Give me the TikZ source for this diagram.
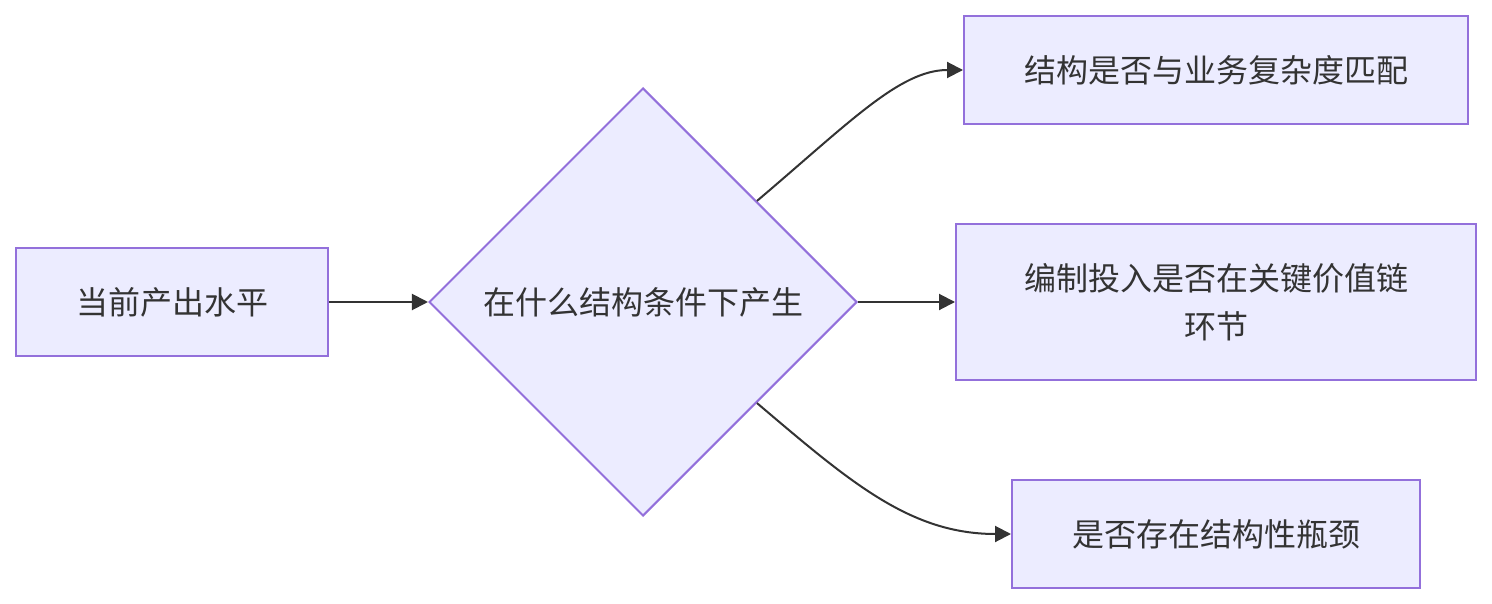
\documentclass[tikz,border=0pt]{standalone}
\usepackage{fontspec}
\setmainfont{Noto Sans CJK SC}
\usetikzlibrary{arrows.meta,positioning,shapes.geometric,calc}
\definecolor{boxfill}{HTML}{ECECFF}
\definecolor{boxline}{HTML}{9370DB}
\definecolor{ink}{HTML}{333333}

\begin{document}
\begin{tikzpicture}[x=0.5pt, y=-0.5pt, every node/.style={font=\fontsize{16pt}{24pt}\selectfont, text=ink}, box/.style={draw=boxline, fill=boxfill, line width=1pt, align=center, inner sep=0pt}, decision/.style={diamond, aspect=1, draw=boxline, fill=boxfill, line width=1pt, inner sep=0pt, minimum width=214pt, minimum height=214pt}, arrow/.style={draw=ink, line width=1pt, -{Triangle[length=8pt, width=8pt]}}]
\useasboundingbox (0,0) rectangle (1492,604);
\node[box, minimum width=156pt, minimum height=54pt] (level) at (172,302) {当前产出水平};
\node[decision] (cond) at (643,302) {在什么结构条件下产生};
\node[box, minimum width=252pt, minimum height=54pt] (match) at (1216,70) {结构是否与业务复杂度匹配};
\node[box, minimum width=260pt, minimum height=78pt] (chain) at (1216,302) {编制投入是否在关键价值链\\环节};
\node[box, minimum width=204pt, minimum height=54pt] (neck) at (1216,534) {是否存在结构性瓶颈};
\coordinate (upout) at ($(cond.north)!0.53!(cond.east)$);
\coordinate (downout) at ($(cond.south)!0.53!(cond.east)$);
\draw[arrow] (level) -- (cond);
\draw[arrow] (upout) .. controls (850,122) and (900,70) .. (match.west);
\draw[arrow] (cond) -- (chain);
\draw[arrow] (downout) .. controls (850,482) and (910,534) .. (neck.west);
\end{tikzpicture}
\end{document}
